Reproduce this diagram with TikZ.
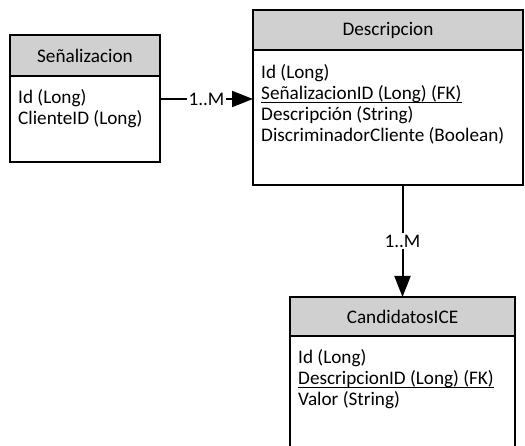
\documentclass[tikz,border=0pt]{standalone}
\usepackage{fontspec}
\setmainfont{Carlito}
\usepackage{tikz}
\usetikzlibrary{positioning, arrows.meta}
\definecolor{erHeader}{HTML}{D0D0D0}
\definecolor{erLine}{HTML}{000000}
% foreign key attribute, underlined just below the baseline
\newcommand{\erKey}[1]{\underline{\raisebox{0pt}[\height][0.08em]{#1}}}
\tikzset{
    erBoxBase/.style={
        rectangle,
        draw=erLine,
        line width=1.3pt,
        inner sep=0pt,
        outer sep=0pt,
        font=\fontsize{19.2}{21}\selectfont
    },
    % Entity parts
    erHead/.style={erBoxBase, fill=erHeader, align=center},
    erBody/.style={erBoxBase, fill=white},
    erAttr/.style={
        font=\fontsize{19.2}{21}\selectfont,
        align=left,
        inner sep=0pt
    },
    % Relations
    erArrowBase/.style={-{Triangle[length=21pt,width=16pt]}, line width=2pt, draw=erLine},
    erLabel/.style={
        font=\fontsize{19.2}{21}\selectfont,
        fill=white,
        inner sep=2pt
    }
}

\begin{document}
\begin{tikzpicture}[x=1pt, y=-1pt]
\useasboundingbox (0,0) rectangle (525,446);

% Senalizacion
\node[erHead, minimum width=150pt, minimum height=41pt, anchor=north west] (senHead) at (10,35) {Señalizacion};
\node[erBody, minimum width=150pt, minimum height=86pt, below=0pt of senHead] (senBody) {};
\node[erAttr, below right=13pt and 8pt of senBody.north west] (senAttr) {Id (Long)\\ClienteID (Long)};

% Descripcion
\node[erHead, minimum width=270pt, minimum height=40pt, anchor=north west] (descHead) at (253,10) {Descripcion};
\node[erBody, minimum width=270pt, minimum height=135pt, below=0pt of descHead] (descBody) {};
\node[erAttr, below right=14pt and 8pt of descBody.north west] (descAttr) {Id (Long)\\\erKey{SeñalizacionID (Long) (FK)}\\Descripción (String)\\DiscriminadorCliente (Boolean)};

% CandidatosICE
\node[erHead, minimum width=225pt, minimum height=39pt, anchor=north west] (candHead) at (290,297) {CandidatosICE};
\node[erBody, minimum width=225pt, minimum height=125pt, below=0pt of candHead] (candBody) {};
\node[erAttr, below right=13pt and 8pt of candBody.north west] (candAttr) {Id (Long)\\\erKey{DescripcionID (Long) (FK)}\\Valor (String)};

\draw[erArrowBase] ([yshift=-23pt]senBody.north east) -- ([yshift=-23pt]senBody.north east -| descBody.west) node[midway, erLabel] {1..M};
\draw[erArrowBase] (descBody.south -| candHead.north) -- (candHead.north) node[midway, erLabel] {1..M};
\end{tikzpicture}
\end{document}
